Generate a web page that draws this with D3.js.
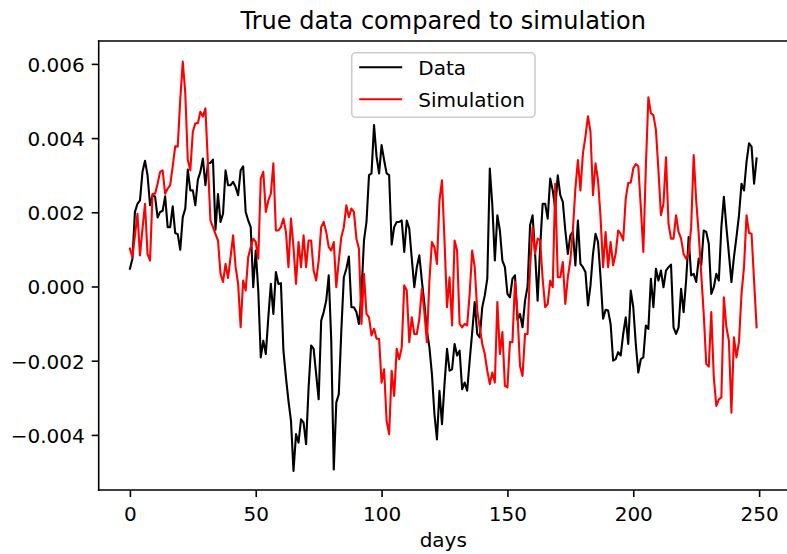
<!DOCTYPE html>
<html>
<head>
<meta charset="utf-8">
<script src="https://cdn.jsdelivr.net/npm/d3@7"></script>
<style>
  html, body { margin: 0; padding: 0; background: #ffffff; }
  svg { display: block; }
  text { font-family: "DejaVu Sans", sans-serif; fill: #000; }
</style>
</head>
<body>
<svg id="chart" width="787" height="554"></svg>
<script>
// ---- data ----
const days = d3.range(250);
const dataValues = [
  0.00048, 0.00075, 0.00201, 0.00223, 0.00232, 0.00309, 0.00339, 0.00300, 0.00219, 0.00246,
  0.00242, 0.00186, 0.00201, 0.00204, 0.00243, 0.00160, 0.00160, 0.00216, 0.00144, 0.00141,
  0.00099, 0.00187, 0.00210, 0.00315, 0.00259, 0.00259, 0.00219, 0.00288, 0.00309, 0.00345,
  0.00273, 0.00332, 0.00333, 0.00342, 0.00153, 0.00249, 0.00174, 0.00196, 0.00313, 0.00273,
  0.00273, 0.00282, 0.00268, 0.00246, 0.00313, 0.00324, 0.00201, 0.00178, 0.00160, -0.00002,
  0.00097, -0.00011, -0.00191, -0.00146, -0.00182, -0.00083, 0.00007, -0.00074, 0.00039, 0.00007,
  0.00009, -0.00173, -0.00245, -0.00308, -0.00362, -0.00497, -0.00398, -0.00421, -0.00358, -0.00367,
  -0.00425, -0.00272, -0.00159, -0.00168, -0.00236, -0.00304, -0.00092, -0.00069, -0.00038, 0.00030,
  -0.00146, -0.00493, -0.00313, -0.00290, -0.00119, 0.00025, 0.00048, 0.00081, -0.00056, -0.00056,
  -0.00069, -0.00101, -0.00020, 0.00124, 0.00174, 0.00300, 0.00305, 0.00435, 0.00350, 0.00305,
  0.00381, 0.00341, 0.00305, 0.00300, 0.00113, 0.00160, 0.00174, 0.00174, 0.00178, 0.00093,
  0.00178, 0.00156, 0.00075, -0.00002, 0.00052, 0.00084, 0.00016, -0.00047, -0.00119, -0.00164,
  -0.00236, -0.00344, -0.00412, -0.00281, -0.00371, -0.00263, -0.00168, -0.00227, -0.00223, -0.00155,
  -0.00186, -0.00173, -0.00277, -0.00259, -0.00281, -0.00200, -0.00123, -0.00042, -0.00128, -0.00137,
  -0.00056, -0.00024, 0.00021, 0.00318, 0.00219, 0.00070, 0.00192, 0.00151, 0.00070, 0.00052,
  -0.00020, -0.00029, 0.00021, 0.00030, -0.00090, -0.00074, -0.00110, -0.00038, 0.00000, 0.00165,
  0.00192, 0.00088, -0.00038, 0.00106, 0.00223, 0.00223, 0.00183, 0.00291, 0.00259, 0.00210,
  0.00300, 0.00246, 0.00228, 0.00151, 0.00088, 0.00138, 0.00147, 0.00057, 0.00178, 0.00061,
  0.00052, 0.00039, -0.00051, 0.00003, 0.00088, 0.00142, 0.00120, 0.00025, -0.00087, -0.00063,
  -0.00065, -0.00101, -0.00200, -0.00196, -0.00177, -0.00186, -0.00128, -0.00083, -0.00155, -0.00011,
  -0.00056, -0.00155, -0.00232, -0.00196, -0.00191, -0.00105, -0.00114, 0.00021, -0.00056, 0.00048,
  0.00016, 0.00043, -0.00002, 0.00043, 0.00052, 0.00059, -0.00110, -0.00128, -0.00110, -0.00006,
  -0.00069, 0.00016, 0.00133, 0.00030, 0.00034, 0.00012, 0.00075, 0.00057, 0.00151, 0.00147,
  0.00115, -0.00020, -0.00002, 0.00034, 0.00016, 0.00160, 0.00242, 0.00160, 0.00088, 0.00012,
  0.00079, 0.00133, 0.00192, 0.00277, 0.00259, 0.00336, 0.00386, 0.00377, 0.00277, 0.00345
];
const simValues = [
  0.00102, 0.00079, 0.00138, 0.00196, 0.00084, 0.00156, 0.00223, 0.00088, 0.00070, 0.00250,
  0.00250, 0.00277, 0.00309, 0.00313, 0.00250, 0.00264, 0.00273, 0.00323, 0.00378, 0.00377,
  0.00503, 0.00606, 0.00521, 0.00341, 0.00313, 0.00417, 0.00440, 0.00440, 0.00471, 0.00458,
  0.00480, 0.00332, 0.00178, 0.00160, 0.00141, 0.00124, 0.00034, 0.00012, 0.00061, 0.00023,
  0.00079, 0.00138, 0.00052, 0.00007, -0.00110, 0.00016, -0.00011, 0.00079, 0.00106, 0.00129,
  0.00120, 0.00075, 0.00291, 0.00309, 0.00201, 0.00232, 0.00250, 0.00332, 0.00151, 0.00151,
  0.00160, 0.00183, 0.00147, 0.00052, 0.00183, 0.00106, 0.00007, 0.00120, 0.00052, 0.00138,
  0.00052, 0.00124, 0.00124, 0.00043, 0.00016, 0.00070, 0.00160, 0.00174, 0.00147, 0.00106,
  0.00097, 0.00120, -0.00002, 0.00070, 0.00133, 0.00160, 0.00219, 0.00187, 0.00210, 0.00201,
  0.00129, 0.00102, -0.00101, 0.00034, -0.00074, -0.00083, -0.00132, -0.00114, -0.00141, -0.00141,
  -0.00259, -0.00223, -0.00362, -0.00398, -0.00227, -0.00295, -0.00168, -0.00196, -0.00164, 0.00003,
  -0.00011, -0.00150, -0.00083, -0.00128, -0.00128, -0.00087, -0.00006, -0.00069, -0.00150, 0.00016,
  0.00120, 0.00106, 0.00061, 0.00232, 0.00286, 0.00124, -0.00056, 0.00025, -0.00105, 0.00124,
  0.00097, -0.00101, -0.00110, -0.00101, -0.00105, -0.00020, 0.00097, 0.00052, -0.00065, -0.00110,
  -0.00155, -0.00182, -0.00227, -0.00263, -0.00232, -0.00259, -0.00042, -0.00182, -0.00123, -0.00268,
  -0.00272, -0.00150, -0.00150, 0.00012, -0.00074, -0.00214, -0.00241, -0.00128, -0.00128, 0.00052,
  0.00160, 0.00088, 0.00129, 0.00124, 0.00021, -0.00056, -0.00047, 0.00016, -0.00002, 0.00277,
  0.00025, 0.00025, 0.00066, -0.00047, 0.00025, 0.00070, 0.00151, 0.00264, 0.00341, 0.00259,
  0.00359, 0.00404, 0.00459, 0.00417, 0.00246, 0.00332, 0.00286, 0.00187, 0.00052, 0.00147,
  0.00052, 0.00120, 0.00057, 0.00088, 0.00151, 0.00142, 0.00124, 0.00237, 0.00279, 0.00280,
  0.00318, 0.00330, 0.00324, 0.00214, 0.00093, 0.00323, 0.00510, 0.00467, 0.00462, 0.00422,
  0.00313, 0.00192, 0.00223, 0.00348, 0.00169, 0.00129, 0.00129, 0.00192, 0.00147, 0.00129,
  0.00088, 0.00075, 0.00088, 0.00160, 0.00354, 0.00232, 0.00142, 0.00034, -0.00074, -0.00209,
  -0.00216, -0.00069, -0.00245, -0.00322, -0.00304, -0.00299, -0.00029, -0.00110, -0.00146, -0.00340,
  -0.00137, -0.00191, -0.00150, -0.00020, 0.00052, 0.00192, 0.00144, 0.00142, 0.00016, -0.00110
];
const xTicks = [0, 50, 100, 150, 200, 250];
const yTicks = [-0.004, -0.002, 0.000, 0.002, 0.004, 0.006];
const seriesNames = ["Data", "Simulation"];
const seriesColors = ["#000000", "#ff0000"];
const titleText = "True data compared to simulation";
const xLabelText = "days";

// ---- layout ----
const plot = { left: 98.7, right: 789.5, top: 41, bottom: 490 };
const svg = d3.select("#chart");

const x = d3.scaleLinear().domain([-12.4, 261.4]).range([98.7, 787.8]);
const y = d3.scaleLinear().domain([-0.005485, 0.006617]).range([plot.bottom, plot.top]);

const fmtY = v => d3.format(".3f")(v).replace("-", "\u2212");

// lines
const series = [dataValues, simValues];
const line = d3.line().x((d, i) => x(days[i])).y(d => y(d));
const clipId = "plotclip";
svg.append("defs").append("clipPath").attr("id", clipId)
  .append("rect").attr("x", plot.left).attr("y", plot.top)
  .attr("width", plot.right - plot.left).attr("height", plot.bottom - plot.top);

const linesG = svg.append("g").attr("clip-path", `url(#${clipId})`);
series.forEach((vals, k) => {
  linesG.append("path")
    .datum(vals)
    .attr("fill", "none")
    .attr("stroke", seriesColors[k])
    .attr("stroke-width", 2.1)
    .attr("stroke-linejoin", "round")
    .attr("stroke-linecap", "square")
    .attr("d", line);
});

// axes
const xAxis = d3.axisBottom(x).tickValues(xTicks).tickSize(7).tickPadding(6).tickFormat(d3.format("d"));
const yAxis = d3.axisLeft(y).tickValues(yTicks).tickSize(7).tickPadding(7).tickFormat(fmtY);

const gx = svg.append("g").attr("transform", `translate(0,${plot.bottom})`).call(xAxis);
const gy = svg.append("g").attr("transform", `translate(${plot.left},0)`).call(yAxis);
[gx, gy].forEach(g => {
  g.select(".domain").remove();
  g.selectAll(".tick line").attr("stroke", "#000").attr("stroke-width", 1.6);
  g.selectAll(".tick text").attr("font-size", 20).attr("font-family", "DejaVu Sans").attr("fill", "#000");
});
gx.selectAll(".tick text").attr("dy", null).attr("y", 31);
gy.selectAll(".tick text").attr("dy", null).attr("dominant-baseline", "alphabetic").attr("y", 7.3);

// spines
const spine = svg.append("g").attr("stroke", "#000").attr("stroke-width", 1.6).attr("fill", "none");
spine.append("line").attr("x1", plot.left).attr("x2", plot.left).attr("y1", plot.top - 0.8).attr("y2", plot.bottom + 0.8);
spine.append("line").attr("x1", plot.right).attr("x2", plot.right).attr("y1", plot.top - 0.8).attr("y2", plot.bottom + 0.8);
spine.append("line").attr("x1", plot.left - 0.8).attr("x2", plot.right + 0.8).attr("y1", plot.top).attr("y2", plot.top);
spine.append("line").attr("x1", plot.left - 0.8).attr("x2", plot.right + 0.8).attr("y1", plot.bottom).attr("y2", plot.bottom);

// title and x label
const cx = (98.7 + 787.8) / 2;
svg.append("text").attr("x", cx).attr("y", 29).attr("text-anchor", "middle")
  .attr("font-size", 24).text(titleText);
svg.append("text").attr("x", cx).attr("y", 547).attr("text-anchor", "middle")
  .attr("font-size", 20).text(xLabelText);

// legend
const leg = { x: 351.7, y: 52.7, w: 183.3, h: 64.6 };
const lg = svg.append("g");
lg.append("rect").attr("x", leg.x).attr("y", leg.y).attr("width", leg.w).attr("height", leg.h)
  .attr("rx", 4).attr("ry", 4)
  .attr("fill", "rgba(255,255,255,0.8)").attr("stroke", "#cccccc").attr("stroke-width", 1.6);
seriesNames.forEach((name, k) => {
  const cy = 67.3 + k * 32;
  lg.append("line").attr("x1", leg.x + 7.5).attr("x2", leg.x + 50.5).attr("y1", cy).attr("y2", cy)
    .attr("stroke", seriesColors[k]).attr("stroke-width", 2.1);
  lg.append("text").attr("x", leg.x + 66.6).attr("y", cy + 7.3).attr("font-size", 20).text(name);
});
</script>
</body>
</html>
